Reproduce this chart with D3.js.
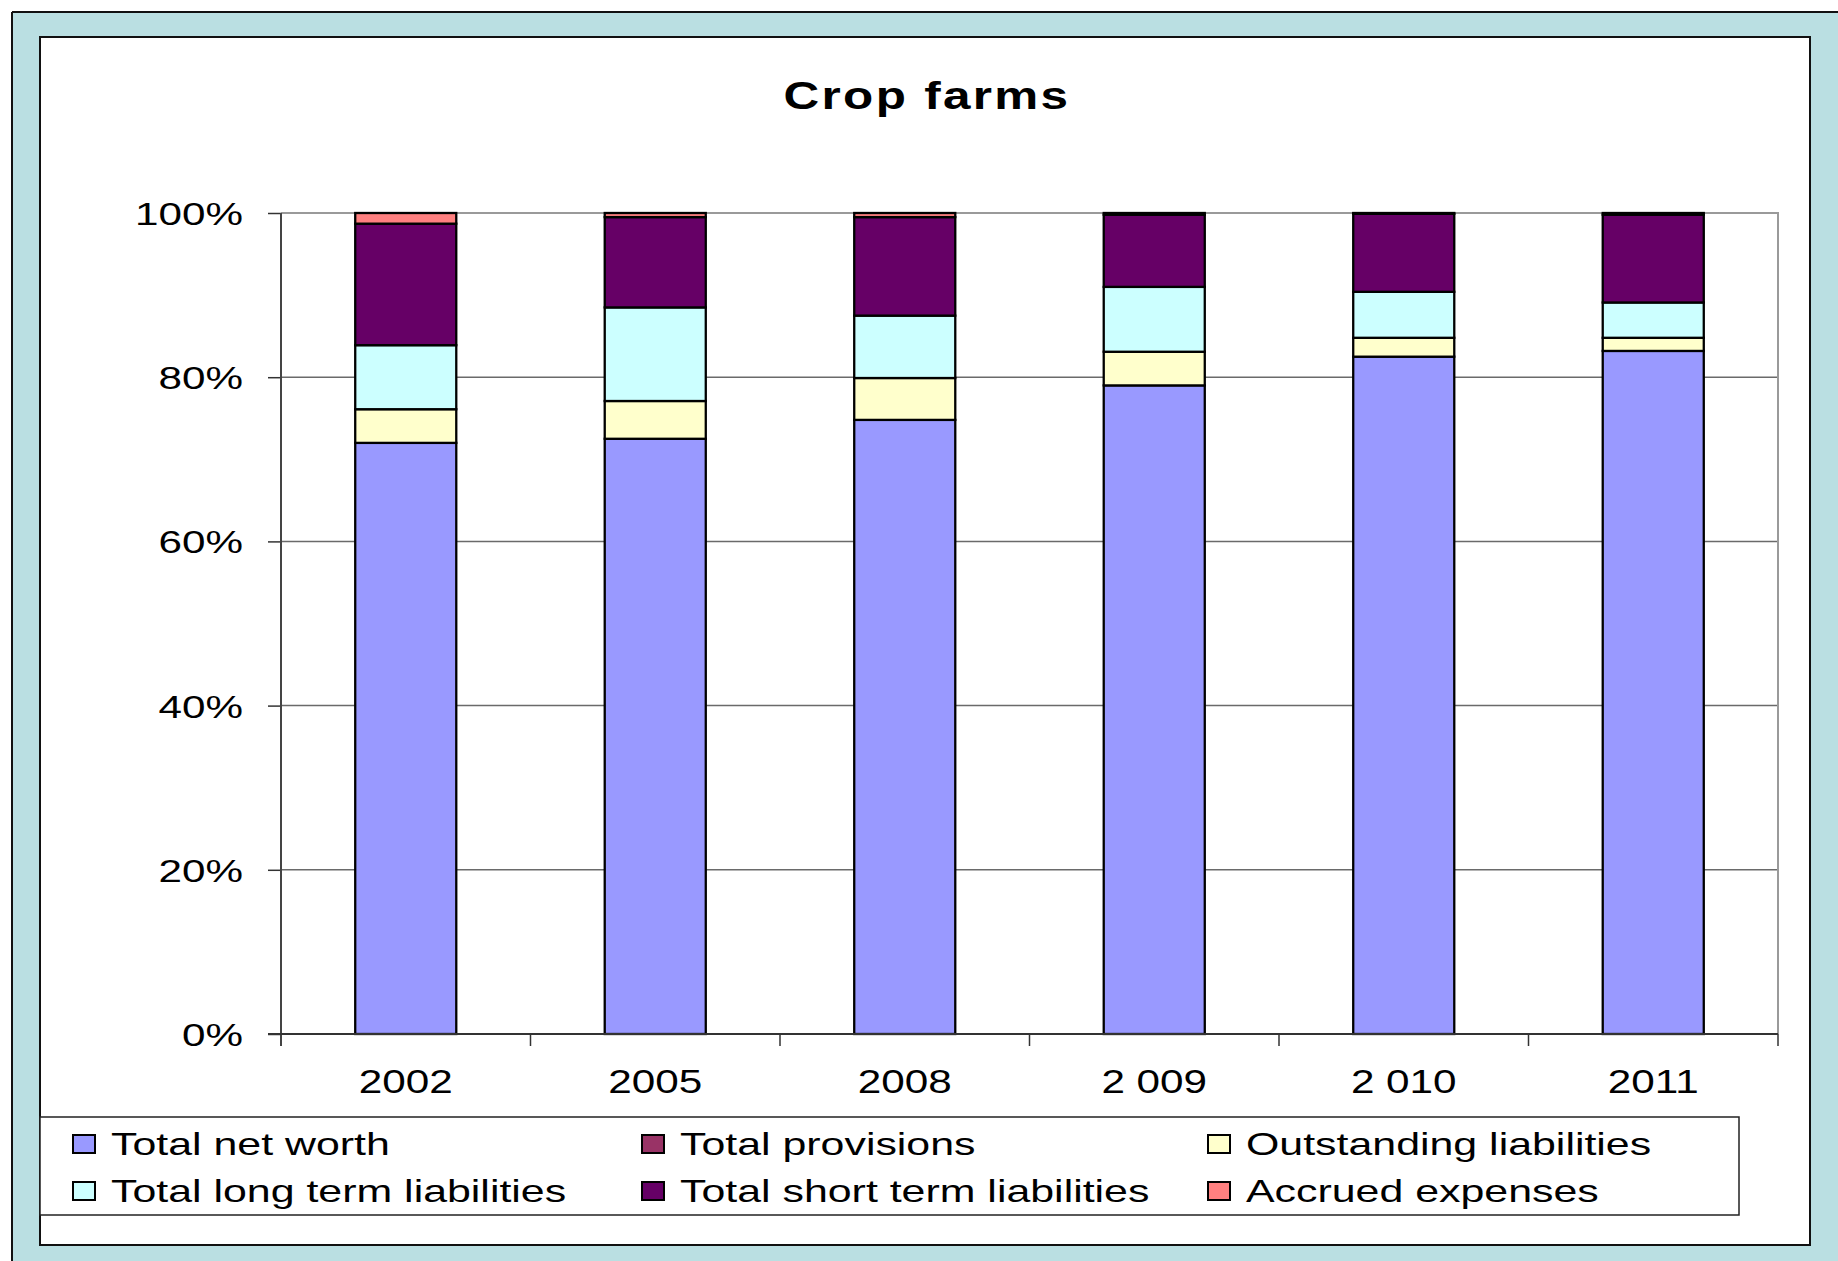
<!DOCTYPE html>
<html><head><meta charset="utf-8">
<script src="https://cdn.jsdelivr.net/npm/d3@7"></script>
<style>html,body{margin:0;padding:0;background:#fff;}svg{display:block;}</style>
</head><body>
<script>
const categories = ["2002","2005","2008","2 009","2 010","2011"];
const seriesNames = ["Total net worth","Total provisions","Outstanding liabilities","Total long term liabilities","Total short term liabilities","Accrued expenses"];
const seriesColors = ["#9999FF","#993366","#FFFFCC","#CCFFFF","#660066","#FF8080"];
const netWorth    = [72.0, 72.5, 74.8, 79.0, 82.5, 83.2];
const provisions  = [0.0, 0.0, 0.0, 0.0, 0.0, 0.0];
const outstanding = [4.1, 4.6, 5.1, 4.1, 2.3, 1.6];
const longTerm    = [7.8, 11.4, 7.6, 7.9, 5.6, 4.3];
const shortTerm   = [14.8, 11.0, 12.0, 8.8, 9.5, 10.7];
const accrued     = [1.3, 0.5, 0.5, 0.2, 0.1, 0.2];
const yTicks = [0, 0.2, 0.4, 0.6, 0.8, 1.0];
const chartTitle = "Crop farms";

(function () {
const W = 1838, H = 1261;
const svg = d3.select("body").append("svg").attr("width", W).attr("height", H);
const font = "'Liberation Sans', Arial, sans-serif";
const SX = 1.3;

// frame
svg.append("rect").attr("x", 12).attr("y", 12).attr("width", W).attr("height", H).attr("fill", "#BADFE2");
svg.append("line").attr("x1", 12).attr("x2", W).attr("y1", 12).attr("y2", 12).attr("stroke", "#111").attr("stroke-width", 2);
svg.append("line").attr("x1", 12).attr("x2", 12).attr("y1", 12).attr("y2", H).attr("stroke", "#111").attr("stroke-width", 2);
svg.append("rect").attr("x", 40).attr("y", 37).attr("width", 1770).attr("height", 1208)
  .attr("fill", "#fff").attr("stroke", "#111").attr("stroke-width", 2);

// data table
const table = categories.map((c, i) => ({
  cat: c,
  [seriesNames[0]]: netWorth[i], [seriesNames[1]]: provisions[i], [seriesNames[2]]: outstanding[i],
  [seriesNames[3]]: longTerm[i], [seriesNames[4]]: shortTerm[i], [seriesNames[5]]: accrued[i]
}));
const stacked = d3.stack().keys(seriesNames).offset(d3.stackOffsetExpand)(table);

const pL = 281, pR = 1778, pT = 213, pB = 1034;
const x = d3.scaleBand().domain(categories).range([pL, pR]).padding(0);
const y = d3.scaleLinear().domain([0, 1]).range([pB, pT]);
const barW = x.bandwidth() * 0.405;

// gridlines
svg.append("g").selectAll("line").data(yTicks.filter(t => t > 0 && t < 1)).join("line")
  .attr("x1", pL).attr("x2", pR).attr("y1", d => y(d)).attr("y2", d => y(d))
  .attr("stroke", "#6a6a6a").attr("stroke-width", 1.5);
// plot border top/right
svg.append("path").attr("d", `M${pL},${y(1)}H${pR}V${pB}`).attr("fill", "none")
  .attr("stroke", "#9a9a9a").attr("stroke-width", 2);

// bars
const gBars = svg.append("g");
stacked.forEach((s, si) => {
  gBars.append("g").selectAll("rect").data(s.filter(d => d[1] - d[0] > 0)).join("rect")
    .attr("x", d => x(d.data.cat) + (x.bandwidth() - barW) / 2)
    .attr("width", barW)
    .attr("y", d => y(d[1]))
    .attr("height", d => Math.max(0, y(d[0]) - y(d[1])))
    .attr("fill", seriesColors[si])
    .attr("stroke", "#000").attr("stroke-width", 2.3);
});

// y axis
const yAxis = d3.axisLeft(y).tickValues(yTicks).tickSize(13).tickFormat(d3.format(".0%"));
const gy = svg.append("g").attr("transform", `translate(${pL},0)`).call(yAxis);
gy.select(".domain").remove();
gy.selectAll(".tick line").attr("stroke", "#333").attr("stroke-width", 1.5);
gy.selectAll(".tick text").remove();
gy.selectAll(".tick").append("text")
  .attr("transform", `translate(-38,0) scale(1.32,1)`)
  .attr("text-anchor", "end").attr("dy", "0.36em")
  .attr("font-family", font).attr("font-size", 32).attr("fill", "#000")
  .text(d => d3.format(".0%")(d));
svg.append("line").attr("x1", pL).attr("x2", pL).attr("y1", pT).attr("y2", pB + 12)
  .attr("stroke", "#444").attr("stroke-width", 2);

// x axis
svg.append("line").attr("x1", pL - 13).attr("x2", pR).attr("y1", pB).attr("y2", pB)
  .attr("stroke", "#333").attr("stroke-width", 2);
const bounds = categories.map(c => x(c)).concat([pR]);
svg.append("g").selectAll("line").data(bounds.slice(1)).join("line")
  .attr("x1", d => d).attr("x2", d => d).attr("y1", pB).attr("y2", pB + 12)
  .attr("stroke", "#333").attr("stroke-width", 1.5);
const xAxis = d3.axisBottom(x).tickSize(0).tickPadding(0);
const gx = svg.append("g").attr("transform", `translate(0,${pB})`).call(xAxis);
gx.select(".domain").remove();
gx.selectAll(".tick text").remove();
gx.selectAll(".tick").append("text")
  .attr("transform", `translate(0,59) scale(${SX},1)`)
  .attr("text-anchor", "middle")
  .attr("font-family", font).attr("font-size", 32.5).attr("fill", "#000")
  .text(d => d);

// title
svg.append("text").attr("transform", `translate(927,109) scale(1.3,1)`)
  .attr("text-anchor", "middle").attr("font-family", font).attr("font-weight", "bold")
  .attr("font-size", 38).attr("letter-spacing", 1.8).attr("fill", "#000").text(chartTitle);

// legend
svg.append("rect").attr("x", 40).attr("y", 1117).attr("width", 1699).attr("height", 98)
  .attr("fill", "#fff").attr("stroke", "#222").attr("stroke-width", 1.5);
const legCols = [73, 642, 1208];
const legRows = [1135, 1182];
const leg = svg.append("g").selectAll("g").data(seriesNames).join("g")
  .attr("transform", (d, i) => `translate(${legCols[i % 3]},${legRows[Math.floor(i / 3)]})`);
leg.append("rect").attr("width", 22).attr("height", 18)
  .attr("fill", (d, i) => seriesColors[i]).attr("stroke", "#000").attr("stroke-width", 2);
leg.append("text").attr("transform", `translate(38,20) scale(1.34,1)`)
  .attr("font-family", font).attr("font-size", 32).attr("fill", "#000").text(d => d);
})();
</script>
</body></html>
